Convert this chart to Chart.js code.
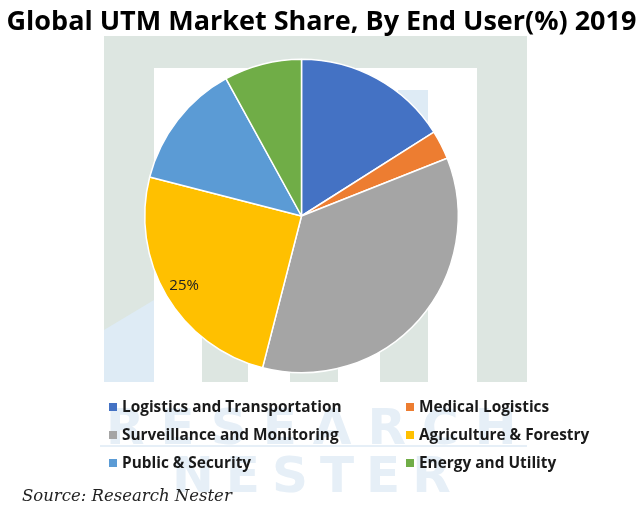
<!DOCTYPE html>
<html>
<head>
<meta charset="utf-8">
<script src="https://cdn.jsdelivr.net/npm/chart.js@4.4.1/dist/chart.umd.min.js"></script>
<style>
  html, body { margin: 0; padding: 0; background: #fff; }
  #wrap { position: relative; width: 643px; height: 512px; overflow: hidden; }
  #wrap canvas { position: absolute; left: 0; top: 0; }
  #title {
    position: absolute; left: 0; top: 1px; width: 643px; text-align: center;
    font-family: "Open Sans", sans-serif; font-weight: bold; font-size: 27px; color: #000;
    letter-spacing: 0px;
  }
  #legend {
    position: absolute; left: 109px; top: 396px; width: 530px;
    font-family: "Open Sans", sans-serif; font-weight: bold; font-size: 15.4px; color: #1a1a1a;
  }
  .item { position: absolute; white-space: nowrap; }
  .item i { display: inline-block; width: 8px; height: 8px; margin-right: 5px; vertical-align: 1px; }
  #source {
    position: absolute; left: 22px; top: 486px;
    font-family: "DejaVu Serif", serif; font-style: italic; font-size: 16.5px; color: #222;
  }
</style>
</head>
<body>
<div id="wrap">
  <canvas id="pie" width="643" height="512"></canvas>
  <div id="title">Global UTM Market Share, By End User(%) 2019</div>
  <div id="legend"></div>
  <div id="source">Source: Research Nester</div>
</div>
<script>
// data (share in %)
var categories = ["Logistics and Transportation", "Medical Logistics", "Surveillance and Monitoring",
                  "Agriculture & Forestry", "Public & Security", "Energy and Utility"];
var shares = [16, 3, 35, 25, 13, 8];
var showLabel = [false, false, false, true, false, false];
var colors = ['#4472C4', '#ED7D31', '#A5A5A5', '#FFC000', '#5B9BD5', '#70AD47'];

// faint logo watermark behind the pie
var watermark = {
    id: 'watermark',
    beforeDraw: function (chart) {
        var ctx = chart.ctx;
        ctx.save();
        ctx.fillStyle = '#dde6e1';
        ctx.fillRect(104, 36, 421, 32);
        ctx.fillRect(104, 36, 50, 346);
        ctx.fillRect(477, 36, 50, 346);
        ctx.fillRect(202, 250, 46, 132);
        ctx.fillRect(290, 250, 48, 132);
        ctx.fillRect(380, 250, 48, 132);
        ctx.fillStyle = '#deebf5';
        ctx.fillRect(398, 90, 30, 160);
        ctx.beginPath();
        ctx.moveTo(104, 330); ctx.lineTo(154, 300); ctx.lineTo(154, 382); ctx.lineTo(104, 382);
        ctx.closePath(); ctx.fill();
        ctx.fillStyle = '#e6eff7';
        ctx.fillRect(100, 445, 427, 2);
        ctx.font = 'bold 50px "DejaVu Sans"';
        ctx.textBaseline = 'alphabetic';
        if ('letterSpacing' in ctx) ctx.letterSpacing = '16px';
        ctx.fillText('RESEARCH', 106, 444);
        if ('letterSpacing' in ctx) ctx.letterSpacing = '12px';
        ctx.fillText('NESTER', 172, 492);
        ctx.restore();
    }
};

var sliceLabels = {
    id: 'sliceLabels',
    afterDatasetsDraw: function (chart) {
        var ctx = chart.ctx;
        var meta = chart.getDatasetMeta(0);
        ctx.save();
        ctx.font = '15px "Open Sans", sans-serif';
        ctx.fillStyle = '#222';
        ctx.textAlign = 'center';
        ctx.textBaseline = 'middle';
        meta.data.forEach(function (arc, i) {
            if (!showLabel[i]) return;
            var p = arc.getProps(['x', 'y', 'startAngle', 'endAngle', 'outerRadius'], true);
            var mid = (p.startAngle + p.endAngle) / 2;
            var r = p.outerRadius * 0.87;
            ctx.fillText(shares[i] + '%', p.x + Math.cos(mid) * r, p.y + Math.sin(mid) * r);
        });
        ctx.restore();
    }
};

new Chart(document.getElementById('pie').getContext('2d'), {
    type: 'pie',
    data: {
        labels: categories,
        datasets: [{
            data: shares,
            backgroundColor: colors,
            borderColor: '#ffffff',
            borderWidth: 1.5
        }]
    },
    options: {
        responsive: false,
        animation: false,
        layout: { padding: { left: 144, right: 184, top: 58, bottom: 138 } },
        plugins: {
            legend: { display: false },
            tooltip: { enabled: false }
        }
    },
    plugins: [watermark, sliceLabels]
});

// legend in two columns
var legend = document.getElementById('legend');
var colX = [0, 297];
for (var i = 0; i < categories.length; i++) {
    var d = document.createElement('div');
    d.className = 'item';
    d.style.left = colX[i % 2] + 'px';
    d.style.top = (Math.floor(i / 2) * 28) + 'px';
    d.innerHTML = '<i style="background:' + colors[i] + '"></i>' + categories[i].replace(/&/g, '&amp;');
    legend.appendChild(d);
}
</script>
</body>
</html>
